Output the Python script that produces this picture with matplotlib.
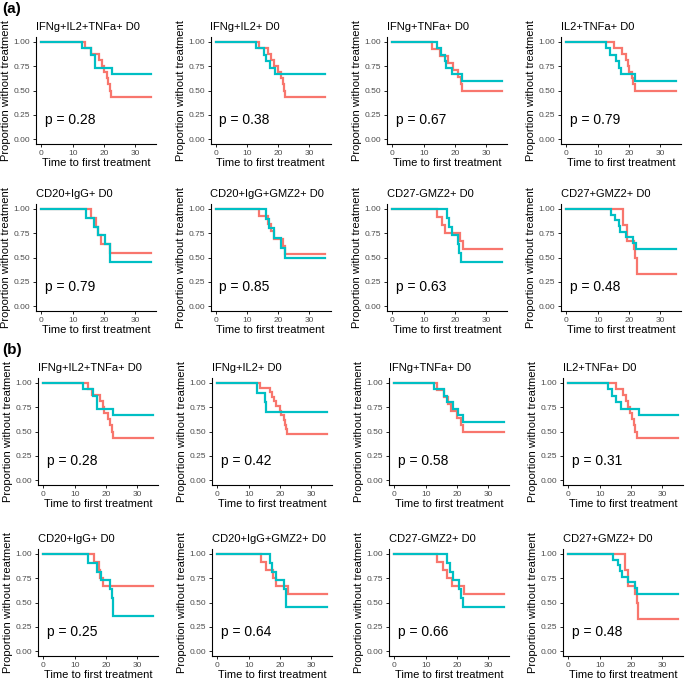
import matplotlib
matplotlib.use("Agg")
import matplotlib.pyplot as plt

plt.rcParams["font.family"] = ["Liberation Sans", "DejaVu Sans"]

RED = "#F8766D"
CYAN = "#00BFC4"

titles = ["IFNg+IL2+TNFa+ D0", "IFNg+IL2+ D0", "IFNg+TNFa+ D0", "IL2+TNFa+ D0",
          "CD20+IgG+ D0", "CD20+IgG+GMZ2+ D0", "CD27-GMZ2+ D0", "CD27+GMZ2+ D0"]
pvals_a = ["0.28", "0.38", "0.67", "0.79", "0.79", "0.85", "0.63", "0.48"]
pvals_b = ["0.28", "0.42", "0.58", "0.31", "0.25", "0.64", "0.66", "0.48"]

# survival levels
s16 = [.9375, .875, .8125, .75, .6875, .625, .5625, .5, .4375]
s15 = [.933, .867, .8, .733, .667, .6]
s14 = [.929, .857, .786, .714, .643, .571, .5]
s12 = [.917, .833, .75, .667, .583]
s11 = [.909, .818, .727, .636, .545, .4545]
s17 = [.941, .882, .824, .765, .706, .647, .588]
s21 = [.952, .905, .857, .81, .762, .714, .667, .619, .571, .524, .476]

# panel (a): event times and survival after each event
red_t_a = [[14.1, 16, 18.6, 19.4, 20.2, 20.9, 21.5, 22, 22.3],
           [13.8, 16.7, 17.8, 18.5, 19.9, 21, 21.5, 21.8, 22.3],
           [12.6, 15.3, 17.7, 19.4, 20.9, 22, 22.4],
           [15.4, 17.9, 19.1, 19.6, 20.2, 21, 21.5, 22],
           [16, 17.5, 18.3, 19.1, 22.1],
           [13.8, 16.7, 17.8, 18.5, 21.5, 22.3],
           [14.3, 15.9, 16.9, 21.8, 22.5],
           [18.1, 19.3, 21.8, 22.1, 22.5]]
red_s_a = [s16, s16, s14, s16[:8],
           s11[:5], [.923, .846, .769, .692, .615, .538], s12, [.833, .667, .583, .5, .333]]
cyan_t_a = [[13, 16, 17.2, 22.6],
            [12.7, 15.4, 16.2, 17.4, 18.9],
            [14.3, 15.6, 16.7, 17.3, 19, 22.4],
            [12.8, 14, 16, 17, 17.5, 22.1],
            [14.4, 17, 18.3, 20.5, 22.1],
            [15.9, 17, 18.6, 21, 22],
            [17.5, 18.2, 19, 20.9, 21.4, 22],
            [14.4, 15.7, 16.8, 17.2, 19.1, 21.3, 22.3]]
cyan_s_a = [[.933, .867, .733, .667], s15[:5], s15, s15,
            [.909, .818, .727, .636, .4545], [.9, .8, .7, .6, .5], s11, s17]

# panel (b)
red_t_b = [[14.3, 15.6, 18.3, 19, 19.4, 20.6, 21.4, 22, 22.4],
           [13.8, 16.8, 17.4, 18, 18.7, 20, 20.5, 21.3, 21.8, 22, 22.3],
           [13.7, 15.9, 17.2, 18.3, 20.1, 21.5, 22],
           [15.1, 17.4, 18.5, 19, 19.6, 20.4, 20.9, 21.5, 21.9],
           [16.1, 17.7, 18.3, 19],
           [14.1, 15.7, 17.9, 18.9, 22.7],
           [13.8, 15.6, 16.9, 18.6, 22.2],
           [18, 19, 21.5, 21.9, 22.2]]
red_s_b = [s16, s21, s14, s16, s12[:4], s12, s12, [.833, .667, .583, .5, .333]]
cyan_t_b = [[12.7, 15.9, 17.1, 22.4],
            [12.8, 15.2, 15.7],
            [12.7, 15.9, 17, 18.8, 20.4, 22],
            [12.7, 14, 15.3, 16.9, 22.6],
            [14.3, 17.1, 18.5, 21.2, 22, 22.4],
            [17, 17.4, 18.9, 21.3, 21.9, 22.1],
            [16.9, 17.8, 18.8, 20.7, 21.5, 22],
            [14.3, 15.9, 16.6, 17.2, 19, 21.2, 21.9]]
cyan_s_b = [[.933, .867, .733, .667], [.9, .8, .7], s15, s15[:5],
            [.909, .818, .727, .636, .545, .364], s11, s11, s17]

W, H = 685, 682
fig = plt.figure(figsize=(W / 100, H / 100), dpi=100)

lefts_a = [36, 210.5, 387, 561]
lefts_b = [38, 212, 389, 563]
tops = [37, 204, 378, 549]
aw, ah = 120, 107


def km(ax, t, s, color):
    x = [0] + list(t) + [35]
    y = [1] + list(s) + [s[-1]]
    ax.step(x, y, where="post", color=color, lw=1.6, solid_joinstyle="miter")


def panel(ax, title, p, rt, rs, ct, cs):
    km(ax, rt, rs, RED)
    km(ax, ct, cs, CYAN)
    ax.set_xlim(-1.75, 36.75)
    ax.set_ylim(-0.05, 1.05)
    ax.set_xticks([0, 10, 20, 30])
    ax.set_yticks([0, .25, .5, .75, 1])
    ax.set_yticklabels(["0.00", "0.25", "0.50", "0.75", "1.00"])
    for sp in ["top", "right"]:
        ax.spines[sp].set_visible(False)
    for sp in ["left", "bottom"]:
        ax.spines[sp].set_linewidth(0.8)
    ax.tick_params(labelsize=6, length=2.5, width=0.6, pad=1.5, labelcolor="#4D4D4D")
    ax.set_title(title, loc="left", fontsize=8, pad=5)
    ax.set_xlabel("Time to first treatment", fontsize=8, labelpad=1)
    ax.set_ylabel("Proportion without treatment", fontsize=8, labelpad=2)
    ax.text(1, 0.2, "p = " + p, fontsize=10, va="center")


for sec, (lefts, pv, rt, rs, ct, cs) in enumerate([
        (lefts_a, pvals_a, red_t_a, red_s_a, cyan_t_a, cyan_s_a),
        (lefts_b, pvals_b, red_t_b, red_s_b, cyan_t_b, cyan_s_b)]):
    for i in range(8):
        row = sec * 2 + i // 4
        col = i % 4
        ax = fig.add_axes([lefts[col] / W, 1 - (tops[row] + ah) / H, aw / W, ah / H])
        panel(ax, titles[i], pv[i], rt[i], rs[i], ct[i], cs[i])

fig.text(2 / W, 1 - 9 / H, "(a)", fontsize=11, fontweight="bold", va="center")
fig.text(2 / W, 1 - 350 / H, "(b)", fontsize=11, fontweight="bold", va="center")

fig.savefig("out.png", dpi=100)
